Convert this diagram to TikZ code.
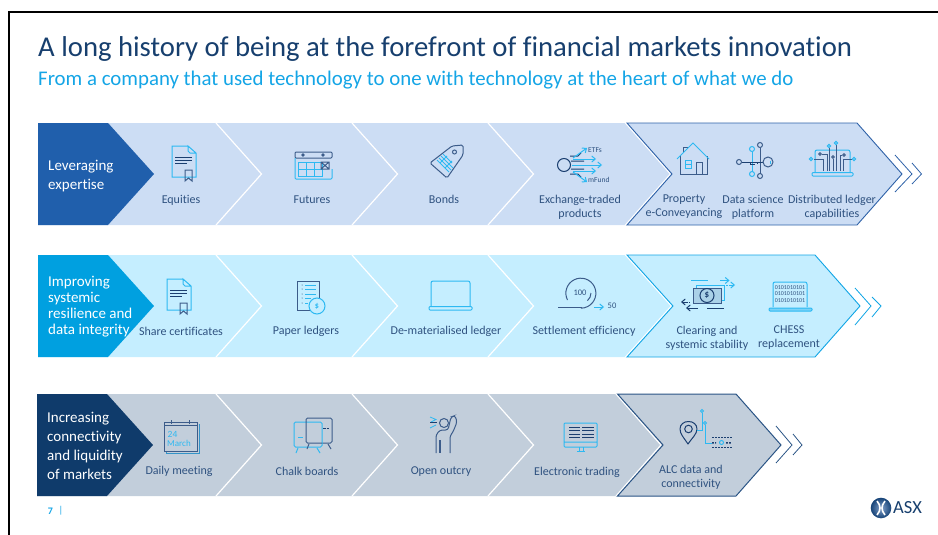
\documentclass[tikz,border=0pt]{standalone}
\usepackage{fontspec}
\setmainfont[Ligatures=NoCommon]{Carlito}
\usetikzlibrary{arrows.meta}

\definecolor{rowoneback}{HTML}{CCDDF4}
\definecolor{rowonedark}{HTML}{205FAC}
\definecolor{rowoneedge}{HTML}{2F62A8}
\definecolor{rowtwoback}{HTML}{C5EEFF}
\definecolor{rowtwodark}{HTML}{00A0E0}
\definecolor{rowtwoedge}{HTML}{10A5E5}
\definecolor{rowthreeback}{HTML}{C2CEDB}
\definecolor{rowthreedark}{HTML}{0F3B6B}
\definecolor{rowthreeedge}{HTML}{2A5485}
\definecolor{titlenavy}{HTML}{173F6E}
\definecolor{labelnavy}{HTML}{2F5280}
\definecolor{subsky}{HTML}{14A5E6}
\definecolor{iconsky}{HTML}{2DB9F2}
\definecolor{iconnavy}{HTML}{3C5C8A}
\definecolor{icondark}{HTML}{1B3F70}

\tikzset{
  steplabel/.style={text=labelnavy,align=center,font=\fontsize{12}{14}\selectfont,inner sep=0pt},
  oneline/.style={steplabel,text height=8.5pt,text depth=2.5pt,yshift=-1pt},
  leadlabel/.style={text=white,align=left,anchor=west,inner sep=0pt},
  sky/.style={draw=iconsky,line width=1pt},
  navy/.style={draw=iconnavy,line width=1pt},
  dark/.style={draw=icondark,line width=1pt},
  skyarrow/.style={sky,-{Straight Barb[length=3.5pt,width=6pt]}},
  darkarrow/.style={dark,-{Straight Barb[length=3.5pt,width=6pt]}},
  tinytext/.style={text=labelnavy,inner sep=0pt,font=\fontsize{7.5}{8}\selectfont},
}

% separators of one row: #1 top, #2 middle, #3 bottom
\newcommand{\rowseps}[3]{
  \foreach \sepx in {216,352,488}{
    \draw[white,line width=1.2pt] (\sepx,#1) -- (\sepx+45.5,#2) -- (\sepx,#3);
  }
}
% the document with a ribbon
\newcommand{\certicon}[2]{
  \begin{scope}[shift={(#1,#2)}]
    \draw[sky] (16,0) -- (0,0) -- (0,31) -- (24,31) -- (24,7) -- (16,0) -- (16,5) -- (18,7) -- (24,7);
    \draw[dark] (3,11) -- (20,11) (3,14) -- (20,14);
    \draw[dark,line width=0.7pt] (3,17) -- (15,17);
    \draw[navy] (13,24) -- (13,35) -- (16.5,32) -- (20,35) -- (20,24) -- cycle;
  \end{scope}
}

\begin{document}
\begin{tikzpicture}[x=1pt,y=-1pt]
\useasboundingbox (0,0) rectangle (938,535);

% frame
\draw[black,line width=2pt] (8.5,535) -- (8.5,12.5) -- (938,12.5);

% heading
\node[anchor=west,inner sep=0pt,text=titlenavy,font=\fontsize{28.7}{30}\selectfont] (headline) at (38,49) {A long history of being at the forefront of financial markets innovation};
\node[anchor=west,inner sep=0pt,text=subsky,font=\fontsize{20.85}{22}\selectfont] (subline) at (38,80) {From a company that used technology to one with technology at the heart of what we do};

% first row
\fill[rowoneback] (38,123) -- (627,123) -- (672,174) -- (627,225) -- (38,225) -- cycle;
\rowseps{123}{174}{225}
\fill[rowonedark] (38,123) -- (108,123) -- (154,174) -- (108,225) -- (38,225) -- cycle;
\draw[white,line width=1.2pt] (625.5,123) -- (670.5,174) -- (625.5,225);
\draw[fill=rowoneback,draw=rowoneedge,line width=0.9pt] (627,123) -- (857,123) -- (902,174) -- (857,225) -- (627,225) -- (672,174) -- cycle;
\draw[draw=rowoneedge,line width=0.8pt] (895,155) -- (912,174) -- (895,192);
\draw[draw=rowoneedge,line width=0.8pt] (912,163) -- (921.5,174) -- (912,184);

\node[leadlabel,font=\fontsize{15}{19}\selectfont] (leadone) at (48,176) {Leveraging\\expertise};
\node[oneline] (equities) at (181,199) {Equities};
\node[oneline] (futures) at (312,199) {Futures};
\node[oneline] (bonds) at (444,199) {Bonds};
\node[steplabel] (etp) at (580,207) {Exchange-traded\\products};
\node[steplabel] (property) at (684,207) {Property\\e-Conveyancing};
\node[steplabel] (datasci) at (753,207) {Data science\\platform};
\node[steplabel] (dlt) at (832,207) {Distributed ledger\\capabilities};

% second row
\fill[rowtwoback] (38,255) -- (627,255) -- (673,306) -- (627,357) -- (38,357) -- cycle;
\rowseps{255}{306}{357}
\fill[rowtwodark] (38,255) -- (108,255) -- (154,306) -- (108,357) -- (38,357) -- cycle;
\draw[white,line width=1.2pt] (625.5,255) -- (671.5,306) -- (625.5,357);
\draw[fill=rowtwoback,draw=rowtwoedge,line width=0.9pt] (627,255) -- (815,255) -- (860,306) -- (815,357) -- (627,357) -- (673,306) -- cycle;
\draw[draw=rowtwoedge,line width=0.8pt] (855,288) -- (871,306) -- (855,325);
\draw[draw=rowtwoedge,line width=0.8pt] (872,297) -- (881,306) -- (872,317);

\node[leadlabel,font=\fontsize{15}{16}\selectfont] (leadtwo) at (48,307) {Improving\\systemic\\resilience and\\data integrity};
\node[oneline] (sharecert) at (181,331) {Share certificates};
\node[oneline] (paper) at (306,330) {Paper ledgers};
\node[oneline] (demat) at (446,330) {De-materialised ledger};
\node[oneline] (settle) at (584,330) {Settlement efficiency};
\node[steplabel] (clearing) at (707,338) {Clearing and\\systemic stability};
\node[steplabel] (chess) at (789,338) {CHESS\\replacement};

% third row
\fill[rowthreeback] (37,394) -- (618,394) -- (663,445) -- (618,496) -- (37,496) -- cycle;
\rowseps{394}{445}{496}
\fill[rowthreedark] (37,394) -- (107,394) -- (153,445) -- (107,496) -- (37,496) -- cycle;
\draw[white,line width=1.2pt] (616,394) -- (661,445) -- (616,496);
\draw[fill=rowthreeback,draw=rowthreeedge,line width=1pt] (617.5,394) -- (736,394) -- (781,445) -- (736,496) -- (617.5,496) -- (663,445) -- cycle;
\draw[draw=rowthreeedge,line width=0.8pt] (776,426) -- (792,445) -- (776,463);
\draw[draw=rowthreeedge,line width=0.8pt] (793,434) -- (802,445) -- (793,455);

\node[leadlabel,font=\fontsize{15}{19}\selectfont] (leadthree) at (47,445.5) {Increasing\\connectivity\\and liquidity\\of markets};
\node[oneline] (daily) at (179,470) {Daily meeting};
\node[oneline] (chalk) at (307,471) {Chalk boards};
\node[oneline] (outcry) at (441,470) {Open outcry};
\node[oneline] (etrading) at (577,471) {Electronic trading};
\node[steplabel] (alc) at (691,477) {ALC data and\\connectivity};

% footer
\node[inner sep=0pt,text=subsky,font=\fontsize{10}{12}\selectfont\bfseries] (pagenum) at (50.5,511) {7};
\node[inner sep=0pt,text=subsky,font=\fontsize{10}{12}\selectfont] (pagebar) at (61,511) {|};
\shade[inner color=rowoneedge!60!white,outer color=rowthreedark!80!rowoneedge] (881,508) circle[radius=10.3];
\draw[white,line width=1.6pt] (877,501) .. controls (881,506) and (881,510) .. (877,515);
\draw[white,line width=1.6pt] (885,501) .. controls (881,506) and (881,510) .. (885,515);
\node[anchor=west,inner sep=0pt,text=titlenavy,font=\fontsize{18.5}{20}\selectfont] (asx) at (893,508) {ASX};

% icons, first row
\certicon{172}{146}

\draw[navy,rounded corners=1pt] (295,152) rectangle (332,158);
\draw[navy] (303,155) circle[radius=1.2] (323,155) circle[radius=1.2];
\draw[sky,rounded corners=1pt] (295,158) -- (295,179) -- (332,179) -- (332,169);
\draw[sky] (298,162) rectangle (322,176) (298,169) -- (322,169) (306,162) -- (306,176) (314,162) -- (314,176);
\draw[navy] (321,162) rectangle (329,169) (321,162) -- (329,169) (321,169) -- (329,162);

\draw[navy,rounded corners=1.5pt] (430,163) -- (452,146) -- (463,145) -- (463,155) -- (447,178) -- cycle;
\draw[navy] (454.5,152) circle[radius=2];
\draw[sky,line width=0.8pt] (437,160) -- (449,172) (439,158) -- (451,170) (441,156) -- (453,168) (443,154) -- (452,163) (440,163) -- (447,156) (445,168) -- (452,161);

\draw[dark] (564,165) circle[radius=6.5];
\draw[dark] (570,156) -- (578,156) -- (581,153) (571,161) -- (584,161) (571,169) -- (584,169) (570,174) -- (578,174) -- (581,177);
\draw[skyarrow] (573,158) -- (587,148);
\draw[skyarrow] (573,159) -- (596,159);
\draw[skyarrow] (572,165) -- (602,165);
\draw[skyarrow] (573,171) -- (596,171);
\draw[skyarrow] (573,172) -- (587,182);
\node[tinytext,anchor=west] (etfs) at (588,150.5) {ETFs};
\node[tinytext,anchor=west] (mfund) at (588,179.5) {mFund};

\draw[navy] (680,156) -- (680,174) -- (707,174) -- (707,156);
\draw[navy] (696,174) -- (696,162) -- (702,162) -- (702,174);
\draw[navy] (683,152) -- (683,147) -- (689,147);
\draw[sky] (677,159) -- (693,143) -- (709,159);
\draw[sky,line width=0.8pt] (685,160) rectangle (691,168) (685,164) -- (691,164);

\draw[sky] (752,151.5) -- (752,171.5);
\draw[navy] (760,147.5) -- (760,173.5);
\draw[dark] (741.5,162) -- (763,162);
\draw[dark,line width=0.7pt] (750,162) -- (750,164) -- (755,164) (757,164) -- (757,162);
\draw[navy] (739,162) circle[radius=2.5] (760,145) circle[radius=2.5] (760,176) circle[radius=2.5] (768,162) circle[radius=5];
\draw[sky] (752,149) circle[radius=2.5] (752,174) circle[radius=2.5];
\draw[sky] (770.5,160.5) -- (770.5,163.5);

\draw[sky,rounded corners=2pt] (815,172) -- (815,150) -- (850,150) -- (850,172);
\draw[sky,rounded corners=1pt] (812,172.5) rectangle (853,176);
\draw[navy] (823,171) -- (823,159) -- (813.5,159) (827,171) -- (827,154) -- (822,154) (829,171) -- (829,148) (833,171) -- (833,159) (836,171) -- (836,145) (840,171) -- (840,155) -- (842,155) (843,171) -- (843,159) -- (851.5,159);
\draw[sky] (811,159) circle[radius=1.6] (854,159) circle[radius=1.6] (829,146) circle[radius=1.6] (836,143) circle[radius=1.6];
\draw[dark,line width=0.7pt] (820,154) circle[radius=1.4] (833,157) circle[radius=1.4] (844,155) circle[radius=1.4];

% icons, second row
\certicon{167}{279}

\draw[navy] (297,281) rectangle (319,310);
\foreach \liney in {285,289,294,298,303}{
  \fill[icondark] (302,\liney) circle[radius=0.5];
}
\draw[sky] (305,285) -- (316,285) (305,289) -- (316,289) (305,294) -- (316,294) (305,298) -- (311,298) (305,303) -- (308,303);
\draw[sky,fill=rowtwoback] (317,306) circle[radius=8];
\node[inner sep=0pt,text=iconsky,font=\fontsize{8}{8}\selectfont\bfseries] (dollarpaper) at (317,306) {\$};

\draw[sky,rounded corners=2pt] (431,306) -- (431,281) -- (470,281) -- (470,306);
\draw[sky,rounded corners=1pt] (429,306.5) rectangle (472,310);

\draw[navy] (567.5,300) arc (153:450:15);
\draw[navy,line width=1.3pt] (558,307.5) -- (582,307.5);
\draw[navy] (591,293) arc (0:50:10);
\node[tinytext,font=\fontsize{8.5}{9}\selectfont] (hundred) at (580,293) {100};
\draw[skyarrow] (594,307) -- (604,307);
\node[tinytext,font=\fontsize{8.5}{9}\selectfont] (fifty) at (612,306) {50};

\draw[sky] (696,285) rectangle (724,300);
\draw[navy,fill=rowtwoback!80!iconnavy] (693,288) rectangle (721,303);
\draw[dark] (707,295.5) circle[radius=7];
\node[inner sep=0pt,text=icondark,font=\fontsize{9}{9}\selectfont\bfseries] (dollarnote) at (707,295.5) {\$};
\draw[sky] (691,280.5) -- (708,280.5);
\draw[skyarrow] (720,280.5) -- (729.5,280.5);
\draw[skyarrow] (729,285) -- (735,285);
\draw[sky] (726,285) -- (727.5,285);
\draw[darkarrow] (688,302) -- (681,302);
\draw[dark] (689,302) -- (690,302);
\draw[darkarrow] (698,308) -- (686,308);
\draw[dark] (707,308) -- (724,308);

\draw[sky,rounded corners=2pt] (773,307) -- (773,282) -- (807,282) -- (807,307);
\draw[sky,fill=iconsky!50!rowtwoback,rounded corners=1pt] (769,308) rectangle (812,311);
\node[inner sep=0pt,text=labelnavy,align=center,font=\fontsize{6}{6.8}\selectfont] (binary) at (790,294) {0101010101\\0101010101\\0101010101};

% icons, third row
\draw[draw=iconsky!60!iconnavy,line width=1pt] (198.5,424) -- (199.5,424) -- (199.5,453) -- (166,453) -- (166,452);
\draw[navy,fill=rowthreeback] (164,422) rectangle (197,451);
\draw[navy] (164,425) -- (197,425) (171,420) -- (171,424) (189,420) -- (189,424);
\node[inner sep=0pt,anchor=west,text=iconsky,font=\fontsize{9.5}{10}\selectfont] (caldate) at (167.5,434) {24};
\node[inner sep=0pt,anchor=west,text=iconsky,font=\fontsize{9}{10}\selectfont] (calmonth) at (167,443) {March};

\draw[navy,rounded corners=1.5pt] (322,443) -- (332,443) -- (332,418) -- (306,418) -- (306,421);
\draw[sky,rounded corners=1.5pt] (306,422) -- (294,422) -- (294,447) -- (322,447) -- (322,443);
\draw[sky,rounded corners=1.5pt] (322,443) -- (322,422) -- (306,422);
\draw[navy,rounded corners=1.5pt] (306,421) -- (306,443) -- (322,443);
\draw[dark,dashed,dash pattern=on 2.5pt off 1pt] (323,428) -- (329,428);
\draw[sky] (298,437) -- (303,437);
\draw[sky] (298,448) -- (296,453) (317,448) -- (320,453);
\draw[navy] (309,444) -- (307,449) (328,444) -- (331,449);

\draw[navy] (444,423) circle[radius=4.5];
\draw[navy,rounded corners=2.5pt] (436,453) -- (436,435) -- (440,430) -- (448,430) -- (451,417) -- (455,415.5) -- (457,422) -- (453,432) -- (450,436) -- (450,453);
\draw[navy,line width=1.2pt] (440,440) -- (440,453);
\draw[sky,line width=0.8pt] (430,417) -- (436,419.5) -- (431,422) (430,428) -- (436,425);
\draw[dark,line width=0.8pt] (430,422.5) -- (437,422.5);

\draw[sky,rounded corners=1pt] (564,423) rectangle (597,447) (564,442) -- (597,442);
\draw[sky] (579,447) -- (579,451) (583,447) -- (583,451) (577,451.5) -- (585,451.5);
\foreach \liney in {427,430.5,434,437.5}{
  \draw[dark,line width=0.8pt] (569,\liney) -- (580,\liney) (582,\liney) -- (594,\liney);
}

\draw[dark,line join=round] (688,444) .. controls (684,438) and (680,434) .. (680,429) .. controls (680,419) and (697,419) .. (697,429) .. controls (697,434) and (692,438) .. (688,444) -- cycle;
\draw[dark] (688.5,429) circle[radius=3.8];
\draw[sky] (702,412.5) -- (702,430.5) -- (697,430.5);
\draw[sky] (705,424.5) -- (705,443) -- (712,443);
\draw[sky] (702,411) circle[radius=1.5] (705,423) circle[radius=1.5];
\foreach \bitx in {712,715,718,721,724,727,730}{
  \foreach \bity in {437,447}{
    \fill[icondark] (\bitx,\bity) rectangle +(1.8,1.4);
  }
}
\fill[icondark] (712,442) rectangle +(1.8,1.6) (715,442) rectangle +(1.2,1.6) (726,442) rectangle +(1.8,1.6) (729,442) rectangle +(1.8,1.6);
\draw[sky,line width=1pt] (721.5,442.5) circle[radius=2];

\end{tikzpicture}
\end{document}
